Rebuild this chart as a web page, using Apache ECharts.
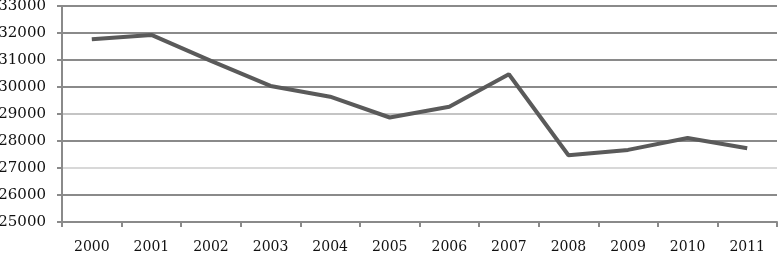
<!DOCTYPE html>
<html>
<head>
<meta charset="utf-8">
<script src="https://cdn.jsdelivr.net/npm/echarts@6/dist/echarts.min.js"></script>
<style>
  html, body { margin: 0; padding: 0; background: #fff; }
  #chart { width: 780px; height: 253px; }
</style>
</head>
<body>
<div id="chart"></div>
<script>
const years = ['2000', '2001', '2002', '2003', '2004', '2005', '2006', '2007', '2008', '2009', '2010', '2011'];
const values = [31770, 31930, 30970, 30040, 29640, 28870, 29270, 30470, 27470, 27670, 28110, 27730];

const chart = echarts.init(document.getElementById('chart'));

const font = 'DejaVu Serif';

chart.setOption({
  animation: false,
  grid: { left: 62, right: 3, top: 6, bottom: 31, outerBoundsMode: 'none', containLabel: false },
  xAxis: {
    type: 'category',
    data: years,
    boundaryGap: true,
    axisLine: { lineStyle: { color: '#8a8a8a', width: 2 } },
    axisTick: { show: true, length: 5, lineStyle: { color: '#8a8a8a', width: 2 } },
    axisLabel: { color: '#111', fontFamily: font, fontSize: 14, margin: 18 }
  },
  yAxis: {
    type: 'value',
    min: 25000,
    max: 33000,
    interval: 1000,
    axisLine: { show: true, lineStyle: { color: '#8a8a8a', width: 2 } },
    axisTick: { show: true, length: 5, lineStyle: { color: '#8a8a8a', width: 2 } },
    axisLabel: { color: '#111', fontFamily: font, fontSize: 15, margin: 16, formatter: v => String(v) },
    splitLine: {
      lineStyle: {
        color: ['#8a8a8a', '#8a8a8a', '#d8d8d8', '#8a8a8a', '#c4c4c4', '#8a8a8a', '#8a8a8a', '#8a8a8a', '#8a8a8a'],
        width: 2
      }
    }
  },
  series: [{
    type: 'line',
    data: values,
    symbol: 'none',
    lineStyle: { color: '#5a5a5a', width: 4 }
  }]
});
</script>
</body>
</html>
